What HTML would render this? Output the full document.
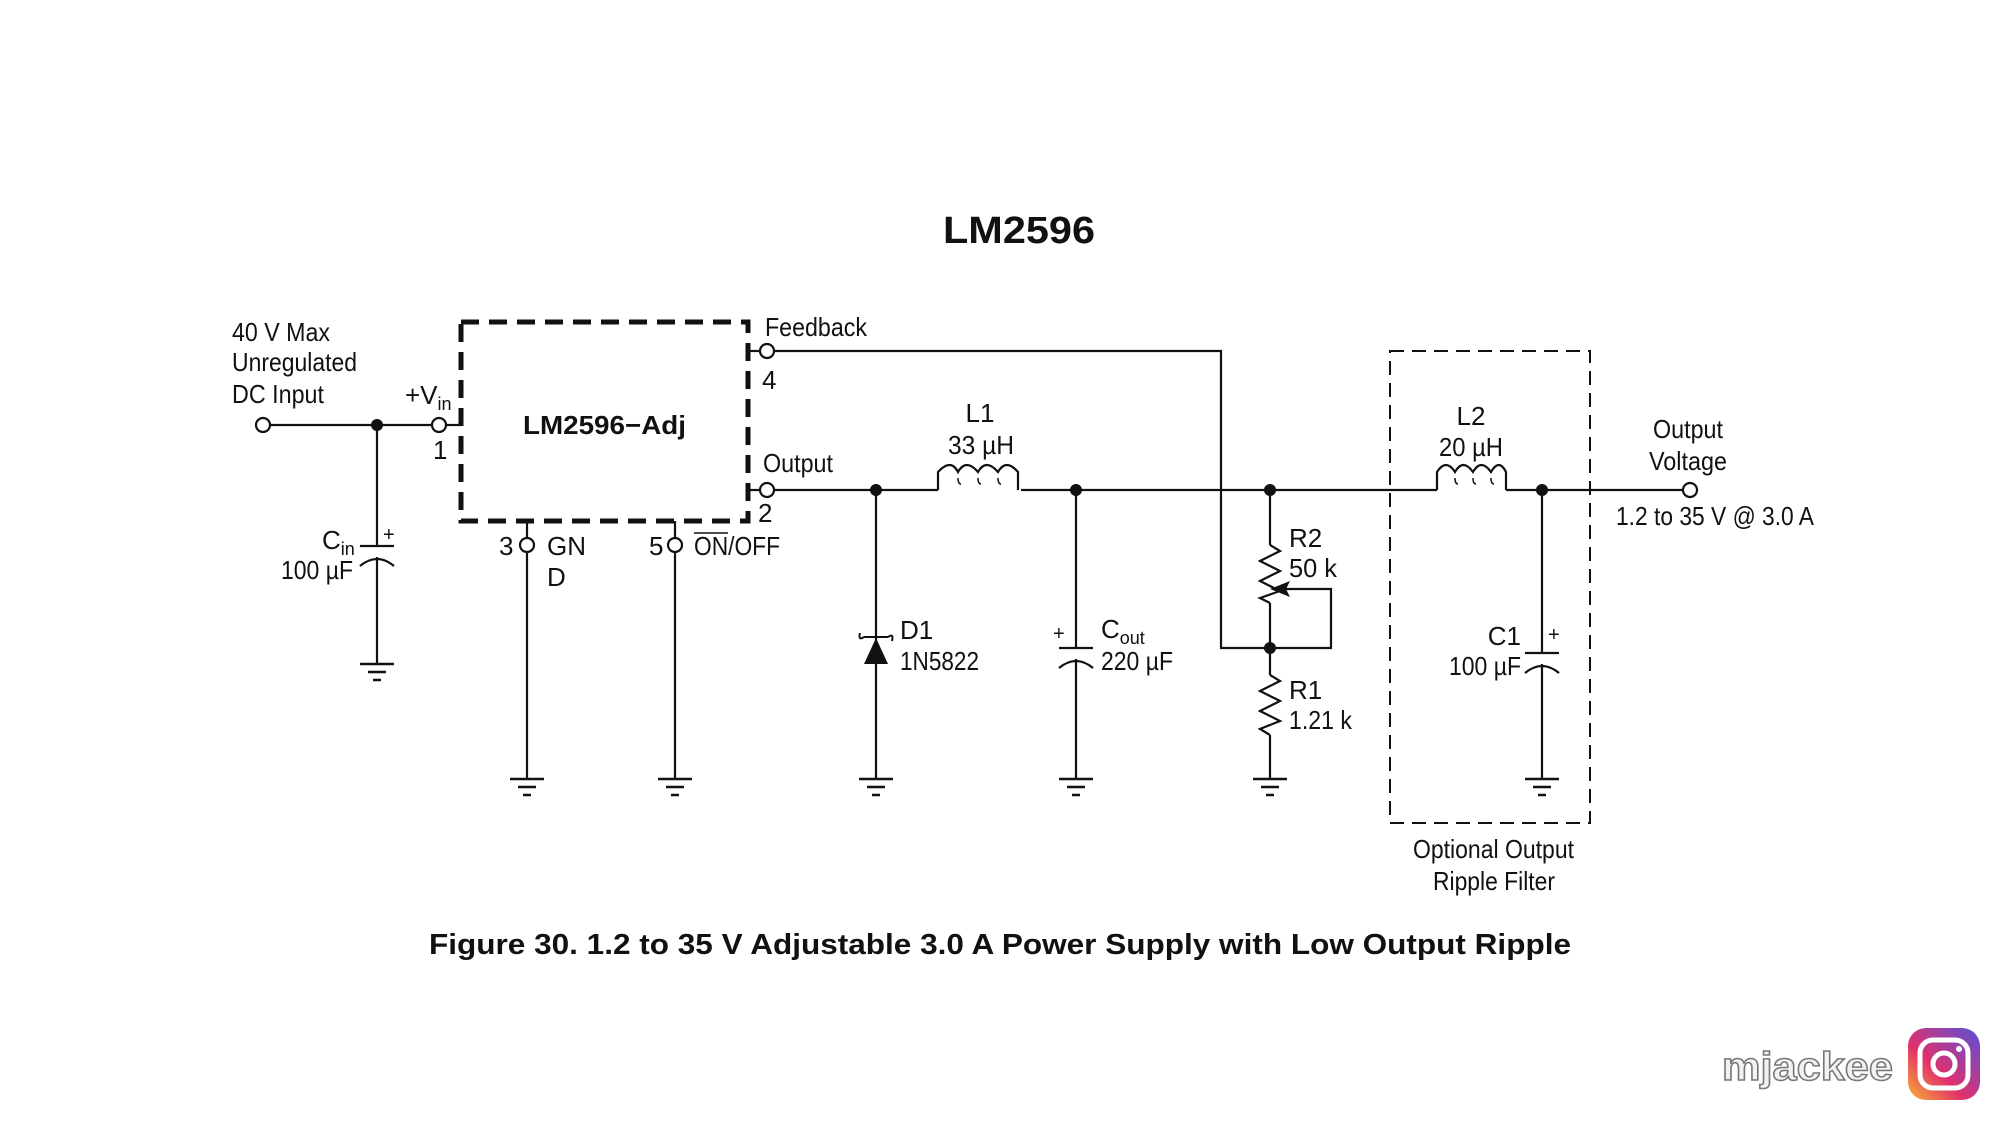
<!DOCTYPE html>
<html><head><meta charset="utf-8"><style>
html,body{margin:0;padding:0;background:#fff;}
svg{display:block}
text{font-family:"Liberation Sans Narrow","Liberation Sans",sans-serif;fill:#111;}
.b{font-family:"Liberation Sans",sans-serif;font-weight:bold;}
</style></head><body>
<svg width="2000" height="1125" viewBox="0 0 2000 1125" xmlns="http://www.w3.org/2000/svg">
<rect width="2000" height="1125" fill="#fff"/>
<g stroke="#111" stroke-width="2.2" fill="none">
<line x1="269" y1="425" x2="433" y2="425"/>
<line x1="445" y1="425" x2="461" y2="425"/>
<line x1="377" y1="425" x2="377" y2="546"/>
<line x1="360" y1="546" x2="394" y2="546"/>
<path d="M360 566 Q377 552 394 566"/>
<line x1="377" y1="557" x2="377" y2="664"/>
<rect x="461" y="322" width="287" height="199" stroke-width="5" stroke-dasharray="18,10"/>
<line x1="748" y1="351" x2="761" y2="351"/>
<polyline points="773,351 1221,351 1221,648 1270,648"/>
<line x1="748" y1="490" x2="761" y2="490"/>
<line x1="773" y1="490" x2="938" y2="490"/>
<path d="M938 490 V472 q13 -14 20 0 q8 -14 20 0 q8 -14 20 0 q8 -14 20 0 V490"/>
<path d="M958 478 q0 6 3 6 M978 478 q0 6 3 6 M998 478 q0 6 3 6" stroke-width="1.5"/>
<line x1="1021" y1="490" x2="1437" y2="490"/>
<path d="M1437 490 V472 q9 -14 18 0 q8 -14 18 0 q8 -14 18 0 q8 -14 15 0 V490"/>
<path d="M1455 478 q0 6 3 6 M1473 478 q0 6 3 6 M1491 478 q0 6 3 6" stroke-width="1.5"/>
<line x1="1506" y1="490" x2="1684" y2="490"/>
<line x1="527" y1="521" x2="527" y2="539"/>
<line x1="527" y1="551" x2="527" y2="779"/>
<line x1="675" y1="521" x2="675" y2="539"/>
<line x1="675" y1="551" x2="675" y2="779"/>
<line x1="876" y1="490" x2="876" y2="779"/>
<path d="M864 637 h24 M864 637 q-6 4 -4 -4 M888 637 q6 -4 4 4" stroke-width="2"/>
<line x1="1076" y1="490" x2="1076" y2="648"/>
<line x1="1059" y1="648" x2="1093" y2="648"/>
<path d="M1059 668 Q1076 654 1093 668"/>
<line x1="1076" y1="659" x2="1076" y2="779"/>
<line x1="1270" y1="490" x2="1270" y2="545"/>
<polyline points="1270,545 1280,551 1260,561 1280,571 1260,581 1280,591 1260,598 1270,603"/>
<line x1="1270" y1="603" x2="1270" y2="675"/>
<polyline points="1284,589 1331,589 1331,648 1270,648"/>
<polyline points="1270,675 1280,681 1260,691 1280,701 1260,711 1280,721 1260,729 1270,735"/>
<line x1="1270" y1="735" x2="1270" y2="779"/>
<line x1="1542" y1="490" x2="1542" y2="653"/>
<line x1="1525" y1="653" x2="1559" y2="653"/>
<path d="M1525 673 Q1542 659 1559 673"/>
<line x1="1542" y1="664" x2="1542" y2="779"/>
<rect x="1390" y="351" width="200" height="472" stroke-width="2" stroke-dasharray="14,8"/>
<g stroke-width="2.5">
<path d="M360 664h34M368 672h18M373 680h8"/>
<path d="M510 779h34M518 787h18M523 795h8"/>
<path d="M658 779h34M666 787h18M671 795h8"/>
<path d="M859 779h34M867 787h18M872 795h8"/>
<path d="M1059 779h34M1067 787h18M1072 795h8"/>
<path d="M1253 779h34M1261 787h18M1266 795h8"/>
<path d="M1525 779h34M1533 787h18M1538 795h8"/>
</g>
<g fill="#fff">
<circle cx="263" cy="425" r="7"/><circle cx="439" cy="425" r="7"/>
<circle cx="767" cy="351" r="7"/><circle cx="767" cy="490" r="7"/>
<circle cx="527" cy="545" r="7"/><circle cx="675" cy="545" r="7"/>
<circle cx="1690" cy="490" r="7"/>
</g>
</g>
<g fill="#111">
<circle cx="377" cy="425" r="6"/><circle cx="876" cy="490" r="6"/>
<circle cx="1076" cy="490" r="6"/><circle cx="1270" cy="490" r="6"/>
<circle cx="1542" cy="490" r="6"/><circle cx="1270" cy="648" r="6"/>
<polygon points="864,664 888,664 876,638"/>
<polygon points="1270,589 1290,581 1286,589 1290,597"/>
</g>
<text class="b" x="943" y="243" font-size="38" textLength="152" lengthAdjust="spacingAndGlyphs">LM2596</text>
<text class="b" x="523" y="434" font-size="26" textLength="163" lengthAdjust="spacingAndGlyphs">LM2596−Adj</text>
<g font-size="26">
<text x="232" y="341" textLength="98" lengthAdjust="spacingAndGlyphs">40 V Max</text>
<text x="232" y="371" textLength="125" lengthAdjust="spacingAndGlyphs">Unregulated</text>
<text x="232" y="403" textLength="92" lengthAdjust="spacingAndGlyphs">DC Input</text>
<text x="405" y="404">+V<tspan font-size="18" dy="6">in</tspan></text>
<text x="433" y="459">1</text>
<text x="765" y="336" textLength="102" lengthAdjust="spacingAndGlyphs">Feedback</text>
<text x="762" y="389">4</text>
<text x="763" y="472" textLength="70" lengthAdjust="spacingAndGlyphs">Output</text>
<text x="758" y="522">2</text>
<text x="499" y="555">3</text>
<text x="547" y="555">GN</text>
<text x="547" y="586">D</text>
<text x="649" y="555">5</text>
<text x="694" y="555" textLength="86" lengthAdjust="spacingAndGlyphs">ON/OFF</text>
<line x1="694" y1="533" x2="728" y2="533" stroke="#111" stroke-width="1.5"/>
<text x="322" y="549">C<tspan font-size="18" dy="6">in</tspan></text>
<text x="383" y="541" font-size="20">+</text>
<text x="281" y="579" textLength="72" lengthAdjust="spacingAndGlyphs">100 µF</text>
<text x="980" y="422" text-anchor="middle">L1</text>
<text x="948" y="454" textLength="66" lengthAdjust="spacingAndGlyphs">33 µH</text>
<text x="900" y="639">D1</text>
<text x="900" y="670" textLength="79" lengthAdjust="spacingAndGlyphs">1N5822</text>
<text x="1053" y="640" font-size="20">+</text>
<text x="1101" y="638">C<tspan font-size="18" dy="6">out</tspan></text>
<text x="1101" y="670" textLength="72" lengthAdjust="spacingAndGlyphs">220 µF</text>
<text x="1289" y="547">R2</text>
<text x="1289" y="577" textLength="48" lengthAdjust="spacingAndGlyphs">50 k</text>
<text x="1289" y="699">R1</text>
<text x="1289" y="729" textLength="63" lengthAdjust="spacingAndGlyphs">1.21 k</text>
<text x="1471" y="425" text-anchor="middle">L2</text>
<text x="1439" y="456" textLength="64" lengthAdjust="spacingAndGlyphs">20 µH</text>
<text x="1521" y="645" text-anchor="end">C1</text>
<text x="1548" y="641" font-size="20">+</text>
<text x="1449" y="675" textLength="72" lengthAdjust="spacingAndGlyphs">100 µF</text>
<text x="1653" y="438" textLength="70" lengthAdjust="spacingAndGlyphs">Output</text>
<text x="1649" y="470" textLength="78" lengthAdjust="spacingAndGlyphs">Voltage</text>
<text x="1616" y="525" textLength="198" lengthAdjust="spacingAndGlyphs">1.2 to 35 V @ 3.0 A</text>
<text x="1413" y="858" textLength="161" lengthAdjust="spacingAndGlyphs">Optional Output</text>
<text x="1433" y="890" textLength="122" lengthAdjust="spacingAndGlyphs">Ripple Filter</text>
</g>
<text class="b" x="429" y="954" font-size="29" textLength="1142" lengthAdjust="spacingAndGlyphs">Figure 30. 1.2 to 35 V Adjustable 3.0 A Power Supply with Low Output Ripple</text>
<text class="b" x="1722" y="1080" font-size="40" textLength="171" lengthAdjust="spacingAndGlyphs" style="fill:#f2f2f2;stroke:#777;stroke-width:1.5">mjackee</text>
<defs><linearGradient id="ig" x1="0" y1="1" x2="1" y2="0"><stop offset="0" stop-color="#f9b233"/><stop offset="0.4" stop-color="#e1306c"/><stop offset="1" stop-color="#5851db"/></linearGradient></defs>
<rect x="1908" y="1028" width="72" height="72" rx="18" fill="url(#ig)"/>
<rect x="1920" y="1040" width="48" height="48" rx="13" fill="none" stroke="#fff" stroke-width="5"/>
<circle cx="1944" cy="1064" r="11" fill="none" stroke="#fff" stroke-width="5"/>
<circle cx="1959" cy="1049" r="3" fill="#fff"/>
</svg>
</body></html>
